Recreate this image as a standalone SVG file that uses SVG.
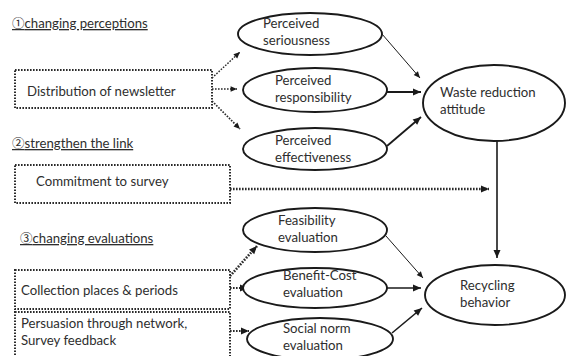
<svg xmlns="http://www.w3.org/2000/svg" width="567" height="356" viewBox="0 0 567 356">
<style>
text{font-family:Lato,"Liberation Sans","DejaVu Sans",sans-serif;font-size:13.2px;fill:#2e2e2e}
.hd{text-decoration:underline}
.cj{font-family:"Noto Sans CJK JP","DejaVu Sans",sans-serif;font-size:12.5px}
.box{fill:none;stroke:#2a2a2a;stroke-width:2;stroke-dasharray:1.6 1.4}
.ell{fill:#fff;stroke:#1a1a1a;stroke-width:1.9}
.sol{fill:none;stroke:#1a1a1a}
.dot{fill:none;stroke:#2a2a2a;stroke-dasharray:1.6 1.4}
</style>
<defs>
<marker id="ah" markerUnits="userSpaceOnUse" markerWidth="10" markerHeight="10" viewBox="0 0 10 10" refX="9" refY="5" orient="auto">
<path d="M1,1.5 L9,5 L1,8.5 Z" fill="#1a1a1a"/>
</marker>
<marker id="ahs" markerUnits="userSpaceOnUse" markerWidth="8" markerHeight="8" viewBox="0 0 10 10" refX="9" refY="5" orient="auto">
<path d="M1,1.5 L9,5 L1,8.5 Z" fill="#1a1a1a"/>
</marker>
</defs>

<g id="headers">
<text class="hd" x="12" y="28"><tspan class="cj">①</tspan>changing perceptions</text>
<text class="hd" x="12" y="148"><tspan class="cj">②</tspan>strengthen the link</text>
<text class="hd" x="20" y="243"><tspan class="cj">③</tspan>changing evaluations</text>
</g>

<g id="newsletter"><rect class="box" x="15" y="70" width="197" height="38"/><text x="27" y="96">Distribution of newsletter</text></g>
<g id="commitment"><rect class="box" x="15" y="165" width="215" height="38"/><text x="36" y="186">Commitment to survey</text></g>
<g id="collection"><rect class="box" x="15" y="270" width="215" height="39"/><text x="21" y="295">Collection places &amp; periods</text></g>
<g id="persuasion"><rect class="box" x="15" y="312" width="215" height="60"/><text x="21" y="328">Persuasion through network,</text><text x="21" y="345">Survey feedback</text></g>

<g id="connectors">
<line class="dot" x1="212" y1="78" x2="240" y2="52" stroke-width="1.4" marker-end="url(#ahs)"/>
<line class="dot" x1="212" y1="89" x2="237" y2="89" stroke-width="1.7" marker-end="url(#ahs)"/>
<line class="dot" x1="212" y1="101" x2="240" y2="129" stroke-width="1.7" marker-end="url(#ahs)"/>
<line class="sol" x1="382" y1="34" x2="420" y2="78" stroke-width="1" marker-end="url(#ahs)"/>
<line class="sol" x1="387" y1="92" x2="421" y2="92" stroke-width="2" marker-end="url(#ah)"/>
<line class="sol" x1="387" y1="146" x2="421" y2="117" stroke-width="1.8" marker-end="url(#ah)"/>
<line class="dot" x1="230" y1="189" x2="489" y2="189" stroke-width="2.4" marker-end="url(#ah)"/>
<line class="sol" x1="497" y1="141" x2="497" y2="258" stroke-width="1.6" marker-end="url(#ah)"/>
<line class="dot" x1="230" y1="276" x2="257" y2="246" stroke-width="2.6" marker-end="url(#ah)"/>
<line class="dot" x1="230" y1="288" x2="248" y2="288" stroke-width="2.2" marker-end="url(#ah)"/>
<line class="dot" x1="230" y1="331" x2="249" y2="331" stroke-width="2" marker-end="url(#ah)"/>
<line class="sol" x1="386" y1="236" x2="423" y2="278" stroke-width="1" marker-end="url(#ahs)"/>
<line class="sol" x1="387" y1="288" x2="421" y2="288" stroke-width="1.6" marker-end="url(#ah)"/>
<line class="sol" x1="392" y1="333" x2="422" y2="308" stroke-width="1.6" marker-end="url(#ah)"/>
</g>

<g id="seriousness"><ellipse class="ell" cx="310" cy="34" rx="72" ry="21"/><text x="263" y="28">Perceived</text><text x="263" y="45">seriousness</text></g>
<g id="responsibility"><ellipse class="ell" cx="315" cy="90" rx="72" ry="22"/><text x="275" y="85">Perceived</text><text x="275" y="102">responsibility</text></g>
<g id="effectiveness"><ellipse class="ell" cx="315" cy="149" rx="72" ry="21"/><text x="275" y="145">Perceived</text><text x="275" y="162">effectiveness</text></g>
<g id="attitude"><ellipse class="ell" cx="494" cy="103" rx="71" ry="38"/><text x="440" y="97">Waste reduction</text><text x="440" y="114">attitude</text></g>
<g id="feasibility"><ellipse class="ell" cx="315" cy="230" rx="72" ry="22"/><text x="278" y="225">Feasibility</text><text x="278" y="242">evaluation</text></g>
<g id="benefitcost"><ellipse class="ell" cx="315" cy="288" rx="72" ry="20"/><text x="283" y="280">Benefit-Cost</text><text x="283" y="297">evaluation</text></g>
<g id="socialnorm"><ellipse class="ell" cx="320" cy="339" rx="73" ry="21"/><text x="283" y="333">Social norm</text><text x="283" y="350">evaluation</text></g>
<g id="recycling"><ellipse class="ell" cx="495" cy="295" rx="70" ry="30"/><text x="460" y="290">Recycling</text><text x="460" y="307">behavior</text></g>
</svg>
